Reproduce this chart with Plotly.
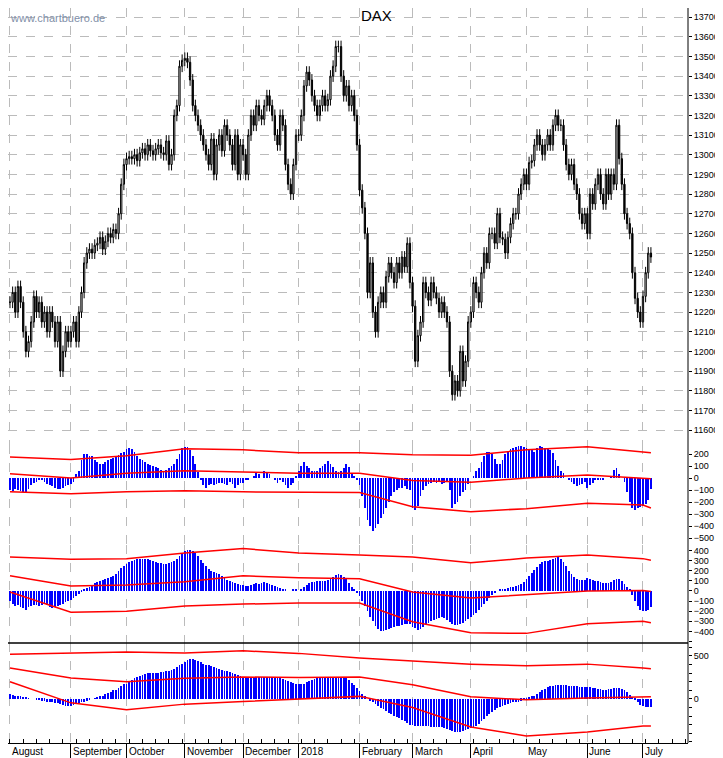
import plotly.graph_objects as go

months = ["August", "September", "October", "November", "December", "2018",
          "February", "March", "April", "May", "June", "July"]

close_aug = [12250, 12300, 12200, 12330, 12250, 12100, 12000, 12050, 12150, 12280, 12200, 12250,
             12150, 12200, 12100, 12200, 12150, 12050, 12150, 11900, 12000, 12100, 12050]
close_sep = [12100, 12150, 12050, 12200, 12300, 12450, 12500, 12520, 12500, 12540, 12550,
             12580, 12520, 12560, 12600, 12580, 12620, 12600, 12700, 12850, 12950]
close_oct = [12980, 12990, 12980, 13000, 12970, 13010, 13030, 13000, 13050, 13020, 13000,
             13030, 13050, 13010, 13000, 13070, 12950, 13000, 13200, 13250, 13450, 13480]
close_nov = [13490, 13470, 13380, 13250, 13200, 13150, 13100, 13050, 13000, 12950, 13080,
             12900, 13050, 13100, 13020, 13150, 13100, 13050, 12950, 13100, 12900, 13050]
close_dec = [13000, 12900, 13100, 13200, 13150, 13250, 13200, 13180, 13250, 13300, 13250,
             13200, 13100, 13050, 13200, 13150, 12950, 12850, 12800, 12950, 13100]
close_jan = [13100, 13200, 13350, 13420, 13380, 13300, 13250, 13200, 13250, 13300, 13250, 13280,
             13400, 13450, 13550, 13550, 13400, 13300, 13350, 13250, 13300, 13200, 13050]
close_feb = [12820, 12730, 12600, 12300, 12450, 12200, 12100, 12250, 12300, 12250, 12380,
             12450, 12400, 12350, 12450, 12400, 12480, 12430, 12550, 12350]
close_mar = [12230, 11950, 12080, 12150, 12350, 12300, 12260, 12350, 12300, 12270, 12200,
             12250, 12200, 12150, 11900, 11780, 11850, 11800, 12000, 11850, 11950, 12150]
close_apr = [12200, 12350, 12300, 12250, 12400, 12500, 12450, 12600, 12600, 12550, 12700,
             12580, 12570, 12500, 12580, 12650, 12700, 12700, 12800, 12850, 12900]
close_may = [12850, 12960, 12970, 13050, 13100, 13050, 13000, 13050, 13100, 13050, 13150, 13200,
             13150, 13150, 13050, 12950, 12900, 12950, 12850, 12800, 12700, 12650, 12700]
close_jun = [12600, 12800, 12750, 12850, 12900, 12800, 12750, 12900, 12800, 12900, 12850,
             13150, 12980, 12850, 12700, 12650, 12600, 12400, 12270, 12200, 12150]
close_jul = [12280, 12400, 12500, 12480]

osc1 = {
 "aug": [-100, -110, -90, -100, -110, -115, -120, -90, -60, -40, -30, -20, -20, -30, -50, -60,
         -70, -80, -90, -90, -80, -70, -60],
 "sep": [-50, -30, 30, 60, 150, 200, 200, 180, 180, 150, 130, 120, 120, 130, 150, 160, 170, 180,
         190, 210, 220],
 "oct": [240, 250, 240, 220, 180, 160, 150, 130, 120, 110, 100, 90, 80, 70, 60, 70, 80, 100,
         120, 160, 200, 250],
 "nov": [260, 260, 230, 180, 120, 50, -20, -60, -80, -60, -50, -60, -50, -40, -40, -50, -60,
         -30, -50, -80, -60, -40],
 "dec": [-40, -20, -20, 0, 20, 40, 30, 0, 60, 40, 30, 0, -10, -40, -20, -30, -60, -80, -60,
         -40, 20],
 "jan": [60, 100, 130, 100, 80, 60, 60, 60, 80, 100, 120, 140, 120, 90, 60, 50, 60, 80, 120,
         90, 40, 10, -20],
 "feb": [-60, -150, -250, -350, -400, -440, -420, -380, -330, -300, -250, -200, -150, -120,
         -100, -80, -80, -70, -90, -100],
 "mar": [-250, -270, -230, -150, -100, -70, -50, -40, -30, -40, -30, -50, -40, -30, -100, -250,
         -220, -200, -150, -120, -100, -50],
 "apr": [0, 20, 60, 80, 130, 180, 220, 220, 200, 160, 120, 120, 150, 200, 220, 240, 250, 260,
         270, 270, 260],
 "may": [250, 240, 230, 220, 250, 270, 260, 250, 240, 230, 210, 150, 100, 60, 40, 0, -20, -30,
         -50, -70, -60, -50, -30],
 "jun": [-80, -60, -40, -20, -20, -10, -10, 0, 0, 10, 70, 80, 30, 0, -30, -120, -200, -250,
         -270, -250, -240],
 "jul": [-230, -220, -180, -90],
}
osc2 = {
 "aug": [-100, -130, -150, -140, -160, -170, -190, -160, -150, -140, -140, -150, -140, -130,
         -140, -160, -170, -160, -150, -140, -130, -110, -100],
 "sep": [-90, -70, -50, -30, -10, 10, 30, 40, 60, 80, 90, 100, 110, 120, 130, 140, 150, 170,
         200, 230, 250],
 "oct": [270, 290, 300, 310, 320, 320, 320, 320, 315, 310, 300, 290, 280, 275, 270, 270, 280,
         290, 300, 320, 350, 380],
 "nov": [400, 410, 410, 400, 380, 350, 310, 280, 250, 220, 200, 190, 180, 170, 150, 130, 110,
         100, 90, 80, 70, 60],
 "dec": [60, 50, 50, 60, 70, 80, 70, 80, 90, 80, 70, 60, 50, 40, 30, 20, 10, 0, 0, 10, 20],
 "jan": [0, 20, 40, 60, 80, 90, 90, 100, 100, 100, 100, 110, 120, 140, 160, 170, 160, 140, 120,
         80, 40, 10, -20],
 "feb": [-50, -100, -150, -200, -260, -300, -350, -380, -400, -400, -390, -380, -370, -360,
         -350, -350, -340, -330, -330, -330],
 "mar": [-360, -370, -390, -380, -360, -340, -320, -300, -290, -280, -270, -260, -270, -290,
         -310, -330, -340, -340, -330, -320, -300, -280],
 "apr": [-260, -240, -220, -190, -160, -130, -100, -70, -40, -20, 0, 10, 20, 20, 30, 40, 40, 50,
         60, 70, 90],
 "may": [120, 150, 180, 210, 240, 270, 290, 300, 300, 310, 320, 330, 340, 320, 290, 250, 200,
         170, 140, 120, 110, 110, 110],
 "jun": [130, 120, 110, 100, 100, 90, 80, 80, 80, 90, 110, 120, 120, 100, 70, 40, 10, -40,
         -100, -150, -190],
 "jul": [-200, -200, -190, -160],
}
osc3 = {
 "aug": [60, 50, 40, 30, 30, 20, 20, 10, 0, 0, -10, -10, -20, -20, -30, -30, -40, -50, -50,
         -60, -70, -80, -80],
 "sep": [-80, -70, -60, -50, -40, -30, -20, -10, 0, 10, 20, 30, 40, 60, 70, 80, 100, 110, 130,
         150, 170],
 "oct": [180, 200, 220, 240, 260, 270, 280, 290, 300, 300, 300, 300, 300, 310, 310, 320, 330,
         340, 350, 370, 390, 410],
 "nov": [430, 450, 460, 460, 450, 440, 430, 410, 400, 390, 380, 370, 360, 350, 340, 330, 320,
         310, 300, 290, 280, 270],
 "dec": [260, 260, 260, 255, 255, 255, 250, 250, 250, 250, 250, 250, 245, 245, 240, 230, 220,
         210, 200, 190, 180],
 "jan": [170, 170, 180, 200, 210, 220, 230, 240, 240, 250, 250, 250, 255, 255, 255, 255, 255,
         250, 240, 220, 190, 160, 130],
 "feb": [90, 60, 30, 0, -20, -40, -60, -80, -100, -120, -140, -160, -180, -200, -210, -220,
         -240, -260, -280, -300],
 "mar": [-300, -310, -310, -310, -310, -310, -310, -320, -320, -320, -320, -330, -340, -350,
         -360, -370, -380, -380, -380, -370, -360, -350],
 "apr": [-340, -330, -310, -290, -260, -230, -200, -170, -150, -130, -110, -90, -80, -70, -60,
         -50, -40, -40, -30, -20, -10],
 "may": [10, 20, 30, 40, 60, 80, 100, 120, 140, 150, 155, 160, 160, 160, 160, 160, 155, 150,
         150, 150, 145, 140, 140],
 "jun": [140, 135, 130, 125, 120, 115, 110, 110, 115, 120, 125, 130, 130, 120, 100, 80, 50, 20,
         -10, -40, -70],
 "jul": [-85, -90, -90, -90],
}

# envelope lines, values at each month start and at the last day
band1_upper = [175, 155, 185, 245, 235, 210, 210, 195, 190, 235, 260, 215, 210]
band1_mid = [35, 0, 40, 60, 50, 40, 40, -20, -35, 0, 25, 0, -5]
band1_lower = [-115, -130, -115, -105, -115, -115, -120, -240, -280, -255, -210, -225, -250]
band2_upper = [335, 315, 320, 375, 420, 375, 355, 335, 280, 325, 355, 320, 305]
band2_mid = [150, 50, 60, 90, 150, 130, 120, -10, -70, -40, 0, 5, -5]
band2_lower = [-10, -210, -200, -150, -130, -120, -120, -305, -415, -420, -325, -300, -315]
band3_upper = [520, 535, 545, 535, 560, 530, 475, 440, 405, 385, 405, 360, 350]
band3_mid = [360, 245, 200, 240, 255, 250, 255, 165, 25, -10, 10, 25, 25]
band3_lower = [200, -45, -125, -60, -30, 0, 30, -100, -325, -430, -385, -315, -315]

price_months = [close_aug, close_sep, close_oct, close_nov, close_dec, close_jan, close_feb,
                close_mar, close_apr, close_may, close_jun, close_jul]
keys = ["aug", "sep", "oct", "nov", "dec", "jan", "feb", "mar", "apr", "may", "jun", "jul"]

closes = [v for m in price_months for v in m]
n = len(closes)
month_starts = []
acc = 0
for m in price_months:
    month_starts.append(acc)
    acc += len(m)
anchors = month_starts + [n - 1]

opens = [closes[0]] + closes[:-1]
highs = [max(o, c) + 30 for o, c in zip(opens, closes)]
lows = [min(o, c) - 30 for o, c in zip(opens, closes)]
x = list(range(n))

def flat(d):
    out = []
    for k in keys:
        out += d[k]
    return out

fig = go.Figure()
fig.add_trace(go.Candlestick(x=x, open=opens, high=highs, low=lows, close=closes,
    increasing=dict(line=dict(color="black", width=1), fillcolor="white"),
    decreasing=dict(line=dict(color="black", width=1), fillcolor="black"),
    whiskerwidth=0, xaxis="x", yaxis="y", showlegend=False))

panels = [("y2", osc1, [band1_upper, band1_mid, band1_lower]),
          ("y3", osc2, [band2_upper, band2_mid, band2_lower]),
          ("y4", osc3, [band3_upper, band3_mid, band3_lower])]
for ax, osc, bands in panels:
    vals = flat(osc)
    fig.add_trace(go.Bar(x=list(range(len(vals))), y=vals, width=0.3, marker_color="#0000ff",
                         marker_line_width=0, xaxis="x", yaxis=ax, showlegend=False))
    for b in bands:
        fig.add_trace(go.Scatter(x=anchors, y=b, mode="lines", line=dict(color="#ff0000", width=1.5),
                                 xaxis="x", yaxis=ax, showlegend=False))

xr = [-0.75, 256]
weekly = list(range(0, 256, 5))
tickfont = dict(family="Liberation Sans, Arial", size=9, color="black")
yax_common = dict(side="right", ticks="outside", ticklen=3, tickcolor="black", showline=False,
                  tickfont=tickfont, zeroline=False, fixedrange=True, tickformat="d")
fig.update_layout(
    width=715, height=750, paper_bgcolor="white", plot_bgcolor="white",
    margin=dict(l=0, r=35, t=0, b=15), bargap=0,
    xaxis=dict(range=xr, tickvals=month_starts, ticktext=[""] * len(month_starts),
               ticks="outside", ticklen=14, tickcolor="black",
               minor=dict(tickvals=weekly, ticks="inside", ticklen=4, tickcolor="black", showgrid=False),
               showgrid=True, gridcolor="#bbbbbb", griddash="dash", gridwidth=1,
               showline=True, linecolor="black", zeroline=False, rangeslider=dict(visible=False),
               anchor="y4", fixedrange=True),
    xaxis2=dict(range=xr, overlaying="x", tickvals=month_starts, showticklabels=False, ticks="",
                showgrid=True, gridcolor="#bbbbbb", griddash="dash", anchor="y",
                zeroline=False, fixedrange=True),
    yaxis=dict(domain=[0.4054, 1], range=[11524, 13746], tickvals=list(range(11600, 13701, 100)),
               showgrid=True, gridcolor="#bbbbbb", griddash="dash", **yax_common),
    yaxis2=dict(domain=[0.2694, 0.4054], range=[-558, 275], tickvals=list(range(-500, 201, 100)),
                minor=dict(tickvals=[-600, 300], ticks="outside", ticklen=3), showgrid=False, **yax_common),
    yaxis3=dict(domain=[0.1361, 0.2694], range=[-515, 455], tickvals=list(range(-400, 401, 100)),
                minor=dict(tickvals=[-500], ticks="outside", ticklen=3), showgrid=False, **yax_common),
    yaxis4=dict(domain=[0, 0.1361], range=[-512, 651], tickvals=[0, 500],
                minor=dict(tickvals=list(range(-500, 601, 100)), ticks="outside", ticklen=3, tickcolor="black"),
                showgrid=False, **yax_common),
)
for i, m in enumerate(months):
    fig.add_annotation(x=month_starts[i], y=0, xref="x", yref="paper", text=m, showarrow=False,
                       xanchor="left", yanchor="top", yshift=-1, xshift=0,
                       font=dict(family="Liberation Sans, Arial", size=10, color="black"))
fig.add_shape(type="line", xref="paper", yref="paper", x0=1, x1=1, y0=0, y1=1,
              line=dict(color="black", width=1))
fig.add_shape(type="line", xref="paper", yref="paper", x0=0, x1=1, y0=0.1361, y1=0.1361,
              line=dict(color="black", width=1.5))
fig.add_annotation(x=368 / 680, y=1 - 8 / 735, xref="paper", yref="paper", text="DAX",
                   showarrow=False, xanchor="center", yanchor="middle",
                   font=dict(family="Liberation Sans, Arial", size=15, color="black"))
fig.add_annotation(x=0, y=1 - 10 / 735, xref="paper", yref="paper", text="www.chartbuero.de",
                   showarrow=False, xanchor="left", yanchor="middle",
                   font=dict(family="Liberation Sans, Arial", size=11, color="#7f8fa8"))
fig.write_html("out.html")
